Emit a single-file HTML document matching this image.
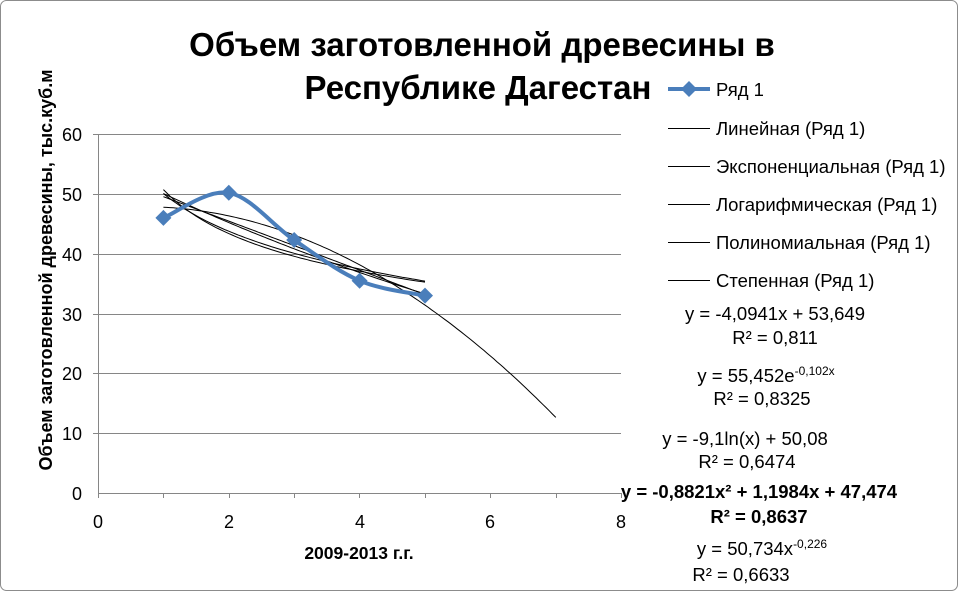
<!DOCTYPE html>
<html><head><meta charset="utf-8"><style>
html,body{margin:0;padding:0;background:#fff}
svg{display:block;font-family:"Liberation Sans","DejaVu Sans",sans-serif}
</style></head><body>
<svg id="s" width="958" height="591" viewBox="0 0 958 591" xmlns="http://www.w3.org/2000/svg">
<rect x="0.5" y="0.5" width="957" height="590" rx="6" fill="#fff" stroke="#8c8c8c"/>
<text x="482" y="56" font-size="33" font-weight="bold" text-anchor="middle">Объем заготовленной древесины в</text>
<text x="478" y="99" font-size="33" font-weight="bold" text-anchor="middle">Республике Дагестан</text>
<g stroke="#868686" stroke-width="1">
<line x1="98" y1="134.5" x2="621" y2="134.5"/>
<line x1="98" y1="194.5" x2="621" y2="194.5"/>
<line x1="98" y1="254.5" x2="621" y2="254.5"/>
<line x1="98" y1="314.5" x2="621" y2="314.5"/>
<line x1="98" y1="373.5" x2="621" y2="373.5"/>
<line x1="98" y1="433.5" x2="621" y2="433.5"/>
<line x1="98" y1="493.5" x2="621" y2="493.5"/>
<line x1="98.5" y1="134" x2="98.5" y2="498"/>
<line x1="163.5" y1="493" x2="163.5" y2="498"/><line x1="229.5" y1="493" x2="229.5" y2="498"/><line x1="294.5" y1="493" x2="294.5" y2="498"/><line x1="359.5" y1="493" x2="359.5" y2="498"/><line x1="425.5" y1="493" x2="425.5" y2="498"/><line x1="490.5" y1="493" x2="490.5" y2="498"/><line x1="556.5" y1="493" x2="556.5" y2="498"/><line x1="621.5" y1="493" x2="621.5" y2="498"/>
<line x1="93" y1="134.5" x2="98" y2="134.5"/><line x1="93" y1="194.5" x2="98" y2="194.5"/><line x1="93" y1="254.5" x2="98" y2="254.5"/><line x1="93" y1="314.5" x2="98" y2="314.5"/><line x1="93" y1="373.5" x2="98" y2="373.5"/><line x1="93" y1="433.5" x2="98" y2="433.5"/>
</g>
<g font-size="18" text-anchor="end">
<text x="82" y="141">60</text><text x="82" y="201">50</text><text x="82" y="261">40</text><text x="82" y="321">30</text><text x="82" y="380">20</text><text x="82" y="440">10</text><text x="82" y="500">0</text>
</g>
<g font-size="18" text-anchor="middle">
<text x="98" y="528">0</text><text x="229" y="528">2</text><text x="360" y="528">4</text><text x="490" y="528">6</text><text x="621" y="528">8</text>
</g>
<text x="359" y="559" font-size="17.5" font-weight="bold" text-anchor="middle">2009-2013 г.г.</text>
<text transform="translate(52,270) rotate(-90)" font-size="18" font-weight="bold" text-anchor="middle">Объем заготовленной древесины, тыс.куб.м</text>
<g id="trend" fill="none" stroke="#000" stroke-width="1"></g>
<path id="ser" fill="none" stroke="#4a7ebb" stroke-width="4"/>
<g id="mk" fill="#4a7ebb"></g>
<line x1="668" y1="89" x2="710" y2="89" stroke="#4a7ebb" stroke-width="4"/>
<path d="M689 81 L697 89 L689 97 L681 89Z" fill="#4a7ebb"/>
<g stroke="#000" stroke-width="1">
<line x1="668" y1="128.5" x2="710" y2="128.5"/><line x1="668" y1="166.5" x2="710" y2="166.5"/><line x1="668" y1="204.5" x2="710" y2="204.5"/><line x1="668" y1="242.5" x2="710" y2="242.5"/><line x1="668" y1="280.5" x2="710" y2="280.5"/>
</g>
<g font-size="18.5">
<text x="716" y="96">Ряд 1</text>
<text x="716" y="135">Линейная (Ряд 1)</text>
<text x="716" y="173">Экспоненциальная (Ряд 1)</text>
<text x="716" y="211">Логарифмическая (Ряд 1)</text>
<text x="716" y="249">Полиномиальная (Ряд 1)</text>
<text x="716" y="287">Степенная (Ряд 1)</text>
</g>
<g font-size="18.5" text-anchor="middle">
<text x="775" y="320">y = -4,0941x + 53,649</text>
<text x="775" y="344">R² = 0,811</text>
<text x="766" y="382">y = 55,452e<tspan font-size="12" dy="-7">-0,102x</tspan></text>
<text x="762" y="405">R² = 0,8325</text>
<text x="745" y="445">y = -9,1ln(x) + 50,08</text>
<text x="747" y="468">R² = 0,6474</text>
<text x="759" y="498" font-weight="bold">y = -0,8821x² + 1,1984x + 47,474</text>
<text x="759" y="523" font-weight="bold">R² = 0,8637</text>
<text x="762" y="555">y = 50,734x<tspan font-size="12" dy="-7">-0,226</tspan></text>
<text x="741" y="581">R² = 0,6633</text>
</g>
</svg>
<script>
var X=function(x){return 98+x*65.4},Y=function(y){return 493-y*5.98};
var fs=[[function(x){return -4.0941*x+53.649},5],[function(x){return 55.452*Math.exp(-0.102*x)},5],[function(x){return -9.1*Math.log(x)+50.08},5],[function(x){return -0.8821*x*x+1.1984*x+47.474},7],[function(x){return 50.734*Math.pow(x,-0.226)},5]];
var g=document.getElementById('trend'),ns='http://www.w3.org/2000/svg';
fs.forEach(function(f){var d='';for(var x=1;x<=f[1]+1e-9;x+=0.05){d+=(d?'L':'M')+X(x).toFixed(1)+' '+Y(f[0](x)).toFixed(1)}var p=document.createElementNS(ns,'path');p.setAttribute('d',d);g.appendChild(p);});
var pts=[[1,46],[2,50.2],[3,42.3],[4,35.5],[5,33]].map(function(p){return [X(p[0]),Y(p[1])]});
var d='M'+pts[0][0]+' '+pts[0][1];
for(var i=0;i<pts.length-1;i++){var p0=pts[i-1]||pts[i],p1=pts[i],p2=pts[i+1],p3=pts[i+2]||p2;var t=1/6;
d+=' C'+(p1[0]+(p2[0]-p0[0])*t)+' '+(p1[1]+(p2[1]-p0[1])*t)+' '+(p2[0]-(p3[0]-p1[0])*t)+' '+(p2[1]-(p3[1]-p1[1])*t)+' '+p2[0]+' '+p2[1];}
document.getElementById('ser').setAttribute('d',d);
var m=document.getElementById('mk');pts.forEach(function(p){var e=document.createElementNS(ns,'path');e.setAttribute('d','M'+p[0]+' '+(p[1]-8)+'L'+(p[0]+8)+' '+p[1]+'L'+p[0]+' '+(p[1]+8)+'L'+(p[0]-8)+' '+p[1]+'Z');m.appendChild(e);});
</script>
</body></html>
